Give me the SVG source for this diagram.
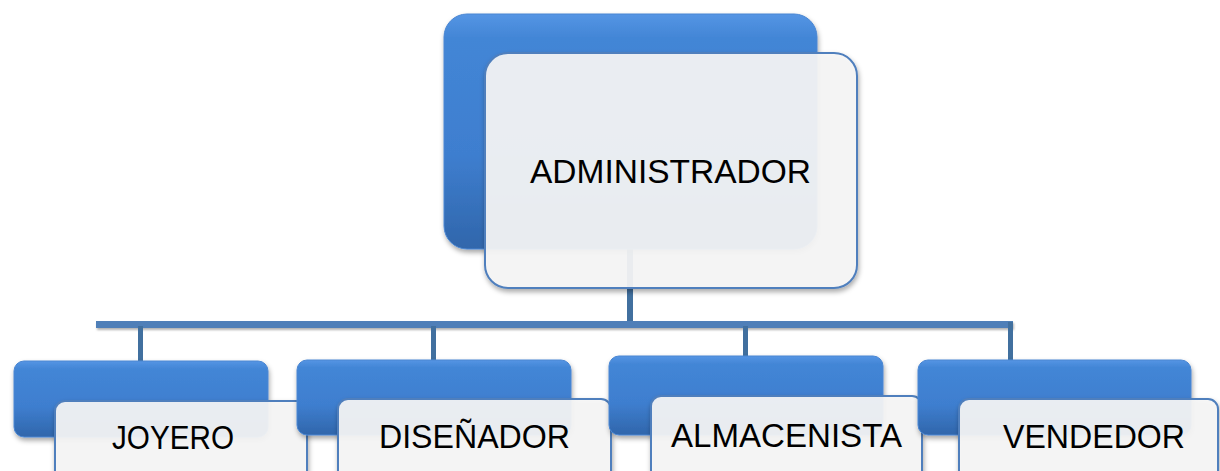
<svg xmlns="http://www.w3.org/2000/svg" width="1220" height="471" viewBox="0 0 1220 471">
  <defs>
    <linearGradient id="blueGrad" x1="0" y1="0" x2="0" y2="1">
      <stop offset="0" stop-color="#5595e4"/>
      <stop offset="0.1" stop-color="#4386d6"/>
      <stop offset="0.6" stop-color="#3e7ecf"/>
      <stop offset="1" stop-color="#3066ab"/>
    </linearGradient>
    <filter id="shadow" x="-10%" y="-10%" width="125%" height="130%">
      <feDropShadow dx="1" dy="3" stdDeviation="2.5" flood-color="#000" flood-opacity="0.35"/>
    </filter>
    <filter id="lineShadow" x="-5%" y="-50%" width="110%" height="250%">
      <feDropShadow dx="1" dy="2" stdDeviation="1" flood-color="#000" flood-opacity="0.3"/>
    </filter>
  </defs>
  <style>
    .blue { fill: url(#blueGrad); stroke: #4a86d2; stroke-width: 1; filter: url(#shadow); }
    .light { fill: #f6f6f6; fill-opacity: 0.92; stroke: #4f7fbd; stroke-width: 2; filter: url(#shadow); }
    .bar { fill: #4f7fb8; filter: url(#lineShadow); }
    .drop { fill: #41709f; }
    .label { font-family: "Liberation Sans", Arial, sans-serif; font-size: 33px; fill: #000; text-anchor: middle; }
  </style>
  <rect width="1220" height="471" fill="#ffffff"/>

  <g id="connectors">
    <rect class="drop" x="627" y="240" width="6" height="86"/>
    <rect class="bar" x="96" y="321" width="917" height="7"/>
    <rect class="drop" x="138" y="326" width="5" height="36"/>
    <rect class="drop" x="431" y="326" width="5" height="35"/>
    <rect class="drop" x="743" y="326" width="5" height="31"/>
    <rect class="drop" x="1008" y="322" width="5" height="39"/>
  </g>

  <g id="administrador">
    <rect class="blue" x="444" y="14" width="373" height="235" rx="23"/>
    <rect class="light" x="485" y="53" width="372" height="235" rx="23"/>
    <text class="label" x="670.5" y="183" textLength="281" lengthAdjust="spacingAndGlyphs">ADMINISTRADOR</text>
  </g>

  <g id="joyero">
    <rect class="blue" x="14" y="361" width="254" height="76" rx="10"/>
    <rect class="light" x="55" y="401" width="252" height="100" rx="10"/>
    <text class="label" x="173" y="449" textLength="122" lengthAdjust="spacingAndGlyphs">JOYERO</text>
  </g>

  <g id="disenador">
    <rect class="blue" x="297" y="360" width="274" height="75" rx="10"/>
    <rect class="light" x="338" y="399" width="273" height="100" rx="10"/>
    <text class="label" x="474.5" y="448" textLength="191" lengthAdjust="spacingAndGlyphs">DISEÑADOR</text>
  </g>

  <g id="almacenista">
    <rect class="blue" x="609" y="356" width="274" height="79" rx="10"/>
    <rect class="light" x="651" y="396" width="271" height="100" rx="10"/>
    <text class="label" x="786.5" y="447" textLength="231" lengthAdjust="spacingAndGlyphs">ALMACENISTA</text>
  </g>

  <g id="vendedor">
    <rect class="blue" x="918" y="360" width="273" height="75" rx="10"/>
    <rect class="light" x="959" y="399" width="259" height="100" rx="10"/>
    <text class="label" x="1094" y="448" textLength="182" lengthAdjust="spacingAndGlyphs">VENDEDOR</text>
  </g>
</svg>
